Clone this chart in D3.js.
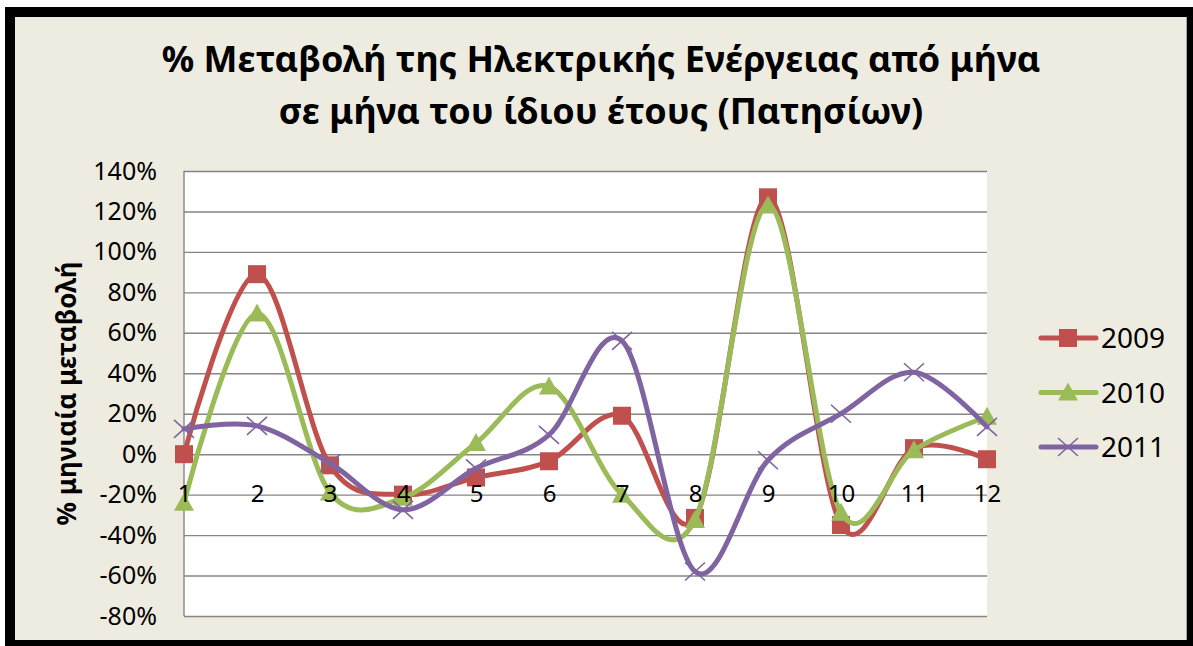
<!DOCTYPE html>
<html>
<head>
<meta charset="utf-8">
<script src="https://cdn.jsdelivr.net/npm/d3@7"></script>
<style>
  html, body { margin: 0; padding: 0; background: #ffffff; }
  svg { display: block; }
  text { font-family: "Noto Sans", "DejaVu Sans", sans-serif; fill: #000; }
</style>
</head>
<body>
<svg id="chart" width="1193" height="646"></svg>
<script>
// Months of the year (category axis)
const months = [1, 2, 3, 4, 5, 6, 7, 8, 9, 10, 11, 12];

// Month-over-month % change of electricity consumption, per year
const values2009 = [0, 89, -5.5, -20, -11.5, -3.5, 19, -31.5, 127, -35, 3, -2.5];
const values2010 = [-24, 69.5, -19, -21.5, 5.5, 33.5, -20, -32.5, 123, -29, 2, 18.5];
const values2011 = [12.5, 14, -4.5, -27.5, -7, 9.5, 56, -58, -3, 20, 40.5, 13.5];

const seriesNames = ["2009", "2010", "2011"];
const seriesColors = ["#C0504D", "#9BBB59", "#8064A2"];
const seriesShapes = ["square", "triangle", "cross"];

// Value axis ticks (percent)
const yTicks = [-80, -60, -40, -20, 0, 20, 40, 60, 80, 100, 120, 140];

const titleLines = [
  "% Μεταβολή της Ηλεκτρικής Ενέργειας από μήνα",
  "σε μήνα του ίδιου έτους (Πατησίων)"
];
const yAxisTitle = "% μηνιαία μεταβολή";

const series = [values2009, values2010, values2011].map((vals, i) => ({
  name: seriesNames[i],
  color: seriesColors[i],
  shape: seriesShapes[i],
  points: months.map((m, j) => ({ month: m, value: vals[j] }))
}));

const svg = d3.select("#chart");

// Chart frame
svg.append("rect")
  .attr("x", 10).attr("y", 12)
  .attr("width", 1181.7).attr("height", 633)
  .attr("fill", "#EEECE1")
  .attr("stroke", "#000").attr("stroke-width", 10);

const plot = { left: 184, right: 987, top: 171, bottom: 616 };

const x = d3.scalePoint().domain(months).range([plot.left, plot.right]);
const y = d3.scaleLinear().domain([-80, 140]).range([plot.bottom, plot.top]);

// Plot area
svg.append("rect")
  .attr("x", plot.left).attr("y", plot.top)
  .attr("width", plot.right - plot.left).attr("height", plot.bottom - plot.top)
  .attr("fill", "#fff");

// Horizontal gridlines + value labels
const yAxis = svg.append("g")
  .attr("transform", `translate(${plot.left},0)`)
  .call(d3.axisLeft(y)
    .tickValues(yTicks)
    .tickSize(-(plot.right - plot.left))
    .tickPadding(27)
    .tickFormat(d => d + "%"));
yAxis.select(".domain").remove();
yAxis.selectAll(".tick line").attr("stroke", "#858585").attr("stroke-width", 1.4);
yAxis.selectAll(".tick text")
  .style("font-family", '"Noto Sans", sans-serif')
  .style("font-size", "25px").attr("fill", "#000");

// Vertical axis line
svg.append("line")
  .attr("x1", plot.left).attr("x2", plot.left)
  .attr("y1", plot.top).attr("y2", plot.bottom)
  .attr("stroke", "#858585").attr("stroke-width", 1.4);

// Series lines (smoothed)
const line = d3.line()
  .x(d => x(d.month))
  .y(d => y(d.value))
  .curve(d3.curveCardinal.tension(0));

function drawMarker(g, shape, color) {
  if (shape === "square") {
    g.append("rect")
      .attr("x", -9).attr("y", -9).attr("width", 18).attr("height", 18)
      .attr("fill", color);
  } else if (shape === "triangle") {
    g.append("path")
      .attr("d", "M0,-10L10,8L-10,8Z")
      .attr("fill", color);
  } else {
    g.append("path")
      .attr("d", "M-10,-9L10,9M-10,9L10,-9")
      .attr("fill", "none")
      .attr("stroke", color).attr("stroke-width", 1.6);
  }
}

series.forEach(s => {
  const g = svg.append("g").attr("class", "series");
  g.append("path")
    .datum(s.points)
    .attr("d", line)
    .attr("fill", "none")
    .attr("stroke", s.color)
    .attr("stroke-width", 5)
    .attr("stroke-linejoin", "round")
    .attr("stroke-linecap", "round");
  g.selectAll("g.marker")
    .data(s.points)
    .enter().append("g")
    .attr("class", "marker")
    .attr("transform", d => `translate(${x(d.month)},${y(d.value)})`)
    .each(function () { drawMarker(d3.select(this), s.shape, s.color); });
});

// Category labels, hung below the zero line and drawn over the series
const xAxis = svg.append("g")
  .attr("transform", `translate(0,${y(0)})`)
  .call(d3.axisBottom(x).tickSize(0).tickPadding(31).tickFormat(d => String(d)));
xAxis.select(".domain").remove();
xAxis.selectAll(".tick text")
  .style("font-family", '"Noto Sans", sans-serif')
  .style("font-size", "24px").attr("fill", "#000");

// Legend
const legend = svg.append("g").attr("transform", "translate(1068,338)");
series.forEach((s, i) => {
  const item = legend.append("g").attr("transform", `translate(0,${i * 54.5})`);
  item.append("line")
    .attr("x1", -27).attr("x2", 28)
    .attr("stroke", s.color).attr("stroke-width", 5)
    .attr("stroke-linecap", "round");
  drawMarker(item, s.shape, s.color);
  item.append("text")
    .attr("x", 33).attr("y", 10)
    .style("font-size", "28px")
    .text(s.name);
});

// Title
const title = svg.append("g");
titleLines.forEach((t, i) => {
  title.append("text")
    .attr("x", 601).attr("y", 72 + i * 52)
    .attr("text-anchor", "middle")
    .style("font-size", "36px").style("font-weight", "bold")
    .text(t);
});

// Value axis title
svg.append("text")
  .attr("transform", `translate(67,${(plot.top + plot.bottom) / 2}) rotate(-90)`)
  .attr("text-anchor", "middle")
  .attr("dy", "0.35em")
  .style("font-size", "26px").style("font-weight", "bold")
  .text(yAxisTitle);
</script>
</body>
</html>
